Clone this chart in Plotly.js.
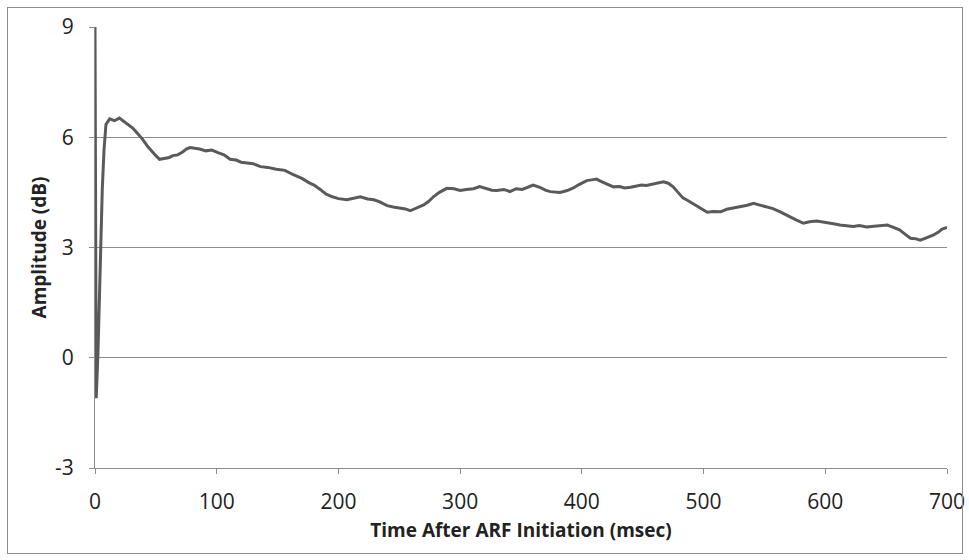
<!DOCTYPE html>
<html>
<head>
<meta charset="utf-8">
<script src="https://cdn.plot.ly/plotly-3.0.1.min.js"></script>
<style>
html,body{margin:0;padding:0;background:#fff;}
#wrap{position:relative;width:969px;height:560px;}
#chart{position:absolute;left:0;top:0;width:969px;height:560px;}
#frame{position:absolute;left:7px;top:7px;width:954px;height:545px;border:1px solid #8c8c8c;pointer-events:none;}
</style>
</head>
<body>
<div id="wrap"><div id="chart"></div><div id="frame"></div></div>
<script>
const timeMs = [0, 0.5, 1, 2.5, 4.4, 6, 7.4, 9, 12, 16, 20, 24, 27, 31, 35, 39, 43.5, 47, 50, 53, 57, 61, 64, 68, 72, 75, 78, 82, 86, 91, 96, 101, 106, 111, 116, 120, 125, 130, 136, 142, 149, 156, 163, 170, 176, 180, 185, 190, 195, 200, 207, 213, 218, 224, 229, 234, 240, 245, 250, 255, 259, 264, 270, 274, 278, 283, 289, 295, 300, 305, 311, 316, 321, 326, 330, 336, 341, 346, 351, 356, 360, 366, 370, 374, 378, 382, 388, 393, 398, 404, 408, 412, 417, 421, 426, 431, 435, 440, 445, 449, 453, 458, 463, 467, 471, 475, 479, 483, 487, 491, 496, 500, 503, 508, 514, 519, 524, 530, 536, 541, 546, 552, 557, 563, 567, 571, 576, 582, 587, 593, 598, 603, 608, 612, 617, 623, 628, 634, 640, 645, 651, 656, 661, 666, 670, 674, 678, 682, 686, 689, 693, 696, 700];
const amplitudeDb = [9, 4, -1.1, 0.2, 3.0, 4.6, 5.65, 6.35, 6.5, 6.45, 6.52, 6.42, 6.33, 6.25, 6.1, 5.95, 5.74, 5.6, 5.5, 5.4, 5.42, 5.45, 5.5, 5.52, 5.6, 5.68, 5.72, 5.7, 5.68, 5.63, 5.65, 5.58, 5.52, 5.4, 5.38, 5.32, 5.3, 5.28, 5.2, 5.18, 5.13, 5.1, 4.98, 4.88, 4.76, 4.7, 4.58, 4.45, 4.38, 4.33, 4.3, 4.35, 4.38, 4.32, 4.3, 4.24, 4.14, 4.1, 4.07, 4.05, 4.0, 4.08, 4.16, 4.25, 4.38, 4.5, 4.61, 4.6, 4.55, 4.58, 4.6, 4.66, 4.62, 4.56, 4.55, 4.58, 4.52, 4.6, 4.58, 4.65, 4.7, 4.63, 4.56, 4.52, 4.5, 4.5, 4.55, 4.62, 4.72, 4.82, 4.84, 4.86, 4.78, 4.72, 4.65, 4.66, 4.62, 4.64, 4.68, 4.7, 4.69, 4.72, 4.76, 4.79, 4.75, 4.65, 4.5, 4.35, 4.28, 4.2, 4.08, 4.0, 3.96, 3.98, 3.97, 4.04, 4.07, 4.1, 4.15, 4.2, 4.15, 4.11, 4.06, 3.97, 3.9, 3.84, 3.75, 3.66, 3.7, 3.72, 3.7, 3.66, 3.64, 3.61, 3.6, 3.57, 3.6, 3.56, 3.58, 3.6, 3.61, 3.55, 3.48, 3.35, 3.25, 3.24, 3.2, 3.25, 3.3, 3.34, 3.42, 3.5, 3.55];
const xTicks = [0, 100, 200, 300, 400, 500, 600, 700];
const yTicks = [-3, 0, 3, 6, 9];

const trace = {
  x: timeMs, y: amplitudeDb, type: 'scatter', mode: 'lines',
  line: {color: '#5a5a5a', width: 3}, hoverinfo: 'skip'
};
const font = "'Open Sans', 'DejaVu Sans', sans-serif";
const layout = {
  width: 969, height: 560,
  margin: {l: 95, r: 22, t: 27, b: 92},
  paper_bgcolor: '#fff', plot_bgcolor: '#fff',
  showlegend: false,
  font: {family: font, color: '#222', size: 21},
  xaxis: {
    range: [0, 700], tickvals: xTicks, ticktext: xTicks.map(String),
    showgrid: false, zeroline: false,
    showline: true, linecolor: '#8c8c8c', linewidth: 1,
    ticks: 'outside', ticklen: 5, tickcolor: '#8c8c8c',
    ticklabelstandoff: 10,
    tickfont: {family: font, size: 21, color: '#222'},
    title: {text: 'Time After ARF Initiation (msec)', font: {family: font, size: 19, color: '#222', weight: 'bold'}, standoff: 9}
  },
  yaxis: {
    range: [-3, 9], tickvals: yTicks, ticktext: yTicks.map(String),
    showgrid: true, gridcolor: '#8c8c8c', gridwidth: 1,
    zeroline: false,
    showline: true, linecolor: '#8c8c8c', linewidth: 1,
    ticks: 'outside', ticklen: 5, tickcolor: '#8c8c8c',
    ticklabelstandoff: 11,
    tickfont: {family: font, size: 21, color: '#222'},
    title: {text: 'Amplitude (dB)', font: {family: font, size: 19, color: '#222', weight: 'bold'}, standoff: 3}
  }
};
Plotly.newPlot('chart', [trace], layout, {staticPlot: true, displayModeBar: false});
</script>
</body>
</html>
